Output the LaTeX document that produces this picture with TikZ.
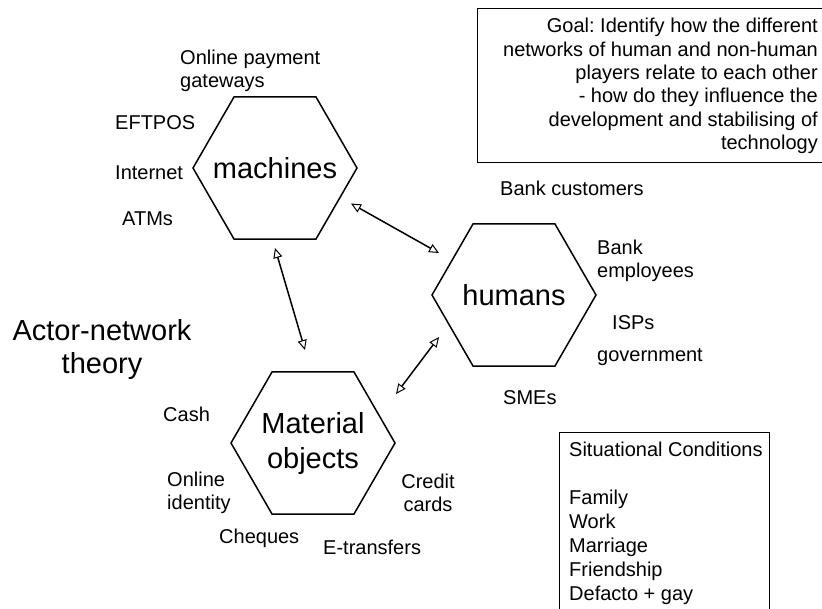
\documentclass[tikz,border=0pt]{standalone}
\usepackage{fontspec}
\setmainfont{Liberation Sans}
\frenchspacing
\usetikzlibrary{shapes.geometric,arrows.meta}
\begin{document}
\begin{tikzpicture}[x=1pt,y=-1pt,
  hexa/.style={regular polygon, regular polygon sides=6,
    draw, line width=1.5pt, minimum size=164pt, inner sep=0pt, outer sep=0pt},
  bigtxt/.style={inner sep=0pt, align=center, font=\fontsize{29}{35}\selectfont},
  lbl/.style={inner sep=0pt, anchor=west, align=left, font=\fontsize{20}{23}\selectfont},
  opentip/.tip={Triangle[open,length=10pt,width=9pt,line width=1pt]},
  link/.style={line width=1.5pt, opentip-opentip},
  panel/.style={draw, line width=1pt, inner sep=0pt}]
\useasboundingbox (0,0) rectangle (822,608);
\clip (0,0) rectangle (822,608);

% the three actor groups
\node[hexa, label={[bigtxt]center:machines}] (mach) at (275,168) {};
\node[hexa, label={[bigtxt]center:humans}] (hum) at (514,295) {};
\node[hexa, label={[bigtxt]center:{Material\\objects}}] (mat) at (313,443) {};

% two-way relations between the groups
\draw[link] ([xshift=14.5pt]mach.-30) -- ([xshift=-13.5pt,yshift=6.5pt]hum.150);
\draw[link] ([yshift=-9pt]mach.south) -- ([xshift=-8pt,yshift=22pt]mat.north);
\draw[link] ([xshift=21.5pt,yshift=13.5pt]mat.30) -- ([xshift=-13.5pt,yshift=-6.5pt]hum.210);

% title
\node[inner sep=0pt, align=center, font=\fontsize{29}{33}\selectfont] (title) at (102,349) {Actor-network\\theory};

% machines
\node[lbl] (opg) at (180,71) {Online payment\\gateways};
\node[lbl] (eftpos) at (115,123) {EFTPOS};
\node[lbl] (internet) at (115,173) {Internet};
\node[lbl] (atms) at (122,219) {ATMs};

% humans
\node[lbl] (bankcust) at (500,188) {Bank customers};
\node[lbl] (bankemp) at (597,261) {Bank\\employees};
\node[lbl] (isps) at (612,323) {ISPs};
\node[lbl] (gov) at (597,357) {government};
\node[lbl] (smes) at (503,398) {SMEs};

% material objects
\node[lbl] (cash) at (163,414) {Cash};
\node[lbl] (onlineid) at (167,493) {Online\\identity};
\node[lbl, anchor=center, align=center] (credit) at (428,493) {Credit\\cards};
\node[lbl] (cheques) at (219,538) {Cheques};
\node[lbl] (etrans) at (323,547) {E-transfers};

% goal panel
\node[panel, anchor=north west, minimum width=353pt, minimum height=154pt] (goalbox) at (477,8) {};
\node[inner sep=0pt, anchor=east, align=right, font=\fontsize{20}{23.4}\selectfont] (goal) at (818,86)
  {Goal: Identify how the different\\networks of human and non-human\\players relate to each other\\- how do they influence the\\development and stabilising of\\technology};

% situational conditions panel
\node[panel, anchor=north west, minimum width=210pt, minimum height=185pt] (sitbox) at (559,432) {};
\node[lbl, anchor=north west, font=\fontsize{20}{24}\selectfont] (sit) at (569,441.5)
  {Situational Conditions\\[24pt]Family\\Work\\Marriage\\Friendship\\Defacto + gay};
\end{tikzpicture}
\end{document}
